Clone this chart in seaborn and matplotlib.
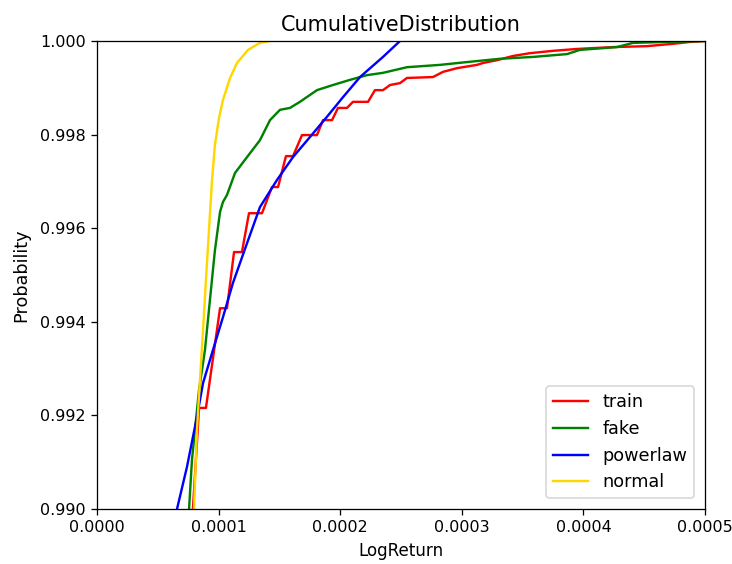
import numpy as np
import pandas as pd
import seaborn as sns
import matplotlib
matplotlib.use('Agg')
import matplotlib.pyplot as plt

# x values are in units of 1e-4 (LogReturn), y is cumulative probability
train_x = [0.789, 0.839, 0.896, 1.012, 1.069, 1.127, 1.192, 1.250, 1.357, 1.439, 1.489,
           1.554, 1.612, 1.686, 1.809, 1.859, 1.933, 1.982, 2.056, 2.105, 2.229, 2.286,
           2.352, 2.410, 2.492, 2.549, 2.763, 2.845, 2.961, 3.125, 3.174, 3.289, 3.421,
           3.561, 3.750, 3.947, 4.243, 4.523, 4.737, 4.877, 5.000]
train_y = [0.99000, 0.99216, 0.99216, 0.99429, 0.99429, 0.99549, 0.99549, 0.99632, 0.99632,
           0.99688, 0.99688, 0.99754, 0.99754, 0.99799, 0.99799, 0.99831, 0.99831, 0.99857,
           0.99857, 0.99870, 0.99870, 0.99895, 0.99895, 0.99906, 0.99910, 0.99921, 0.99923,
           0.99934, 0.99942, 0.99949, 0.99953, 0.99959, 0.99968, 0.99974, 0.99979, 0.99983,
           0.99987, 0.99989, 0.99994, 0.99998, 1.00000]

fake_x = [0.757, 0.781, 0.814, 0.839, 0.888, 0.929, 0.970, 1.012, 1.036, 1.069, 1.135,
          1.234, 1.340, 1.423, 1.505, 1.587, 1.669, 1.809, 1.941, 2.081, 2.220, 2.352,
          2.549, 2.821, 3.043, 3.314, 3.586, 3.865, 3.972, 4.276, 4.408, 4.688, 5.000]
fake_y = [0.99000, 0.99105, 0.99190, 0.99254, 0.99340, 0.99447, 0.99553, 0.99635, 0.99656,
          0.99671, 0.99718, 0.99752, 0.99788, 0.99831, 0.99853, 0.99857, 0.99870, 0.99895,
          0.99906, 0.99917, 0.99927, 0.99932, 0.99944, 0.99949, 0.99955, 0.99962, 0.99966,
          0.99972, 0.99981, 0.99987, 0.99996, 0.99998, 1.00000]

powerlaw_x = [0.658, 0.740, 0.822, 0.872, 0.954, 1.036, 1.118, 1.234, 1.340, 1.480,
              1.612, 1.752, 1.891, 2.023, 2.163, 2.352, 2.492]
powerlaw_y = [0.99000, 0.99090, 0.99197, 0.99269, 0.99340, 0.99410, 0.99483, 0.99568,
              0.99645, 0.99703, 0.99752, 0.99795, 0.99838, 0.99880, 0.99923, 0.99966, 1.00000]

normal_x = [0.798, 0.822, 0.847, 0.872, 0.896, 0.921, 0.946, 0.970, 1.003, 1.036, 1.094,
            1.151, 1.242, 1.340, 1.423]
normal_y = [0.99000, 0.99169, 0.99276, 0.99382, 0.99489, 0.99596, 0.99703, 0.99778,
            0.99835, 0.99874, 0.99921, 0.99953, 0.99981, 0.99996, 1.00000]

series = [('train', train_x, train_y, 'red'),
          ('fake', fake_x, fake_y, 'green'),
          ('powerlaw', powerlaw_x, powerlaw_y, 'blue'),
          ('normal', normal_x, normal_y, 'gold')]

DPI = 115   # the reference looks like a default figure scaled up ~1.15x
fig = plt.figure(figsize=(732/DPI, 564/DPI), dpi=DPI)
ax = fig.add_axes([0.1325, 0.0975, 0.8306, 0.8298])

for name, xs, ys, col in series:
    df = pd.DataFrame({'LogReturn': np.array(xs) * 1e-4, 'Probability': ys})
    sns.lineplot(data=df, x='LogReturn', y='Probability', ax=ax, color=col,
                 label=name, sort=False, estimator=None, linewidth=1.5)

ticks_x = np.arange(0, 0.00051, 0.0001)
ticks_y = np.arange(0.990, 1.0001, 0.002)
ax.set_xlim(0, 0.0005)
ax.set_ylim(0.99, 1.0)
ax.set_xticks(ticks_x)
ax.set_xticklabels(['{:.4f}'.format(v) for v in ticks_x])
ax.set_yticks(ticks_y)
ax.set_yticklabels(['{:.3f}'.format(v) for v in ticks_y])
ax.set_title('CumulativeDistribution', fontsize=13)
ax.set_xlabel('LogReturn', fontsize=10.5)
ax.set_ylabel('Probability', fontsize=11, labelpad=6)
ax.legend(loc='lower right', fontsize=11, borderaxespad=0.6)

fig.savefig('out.png', dpi=DPI)
